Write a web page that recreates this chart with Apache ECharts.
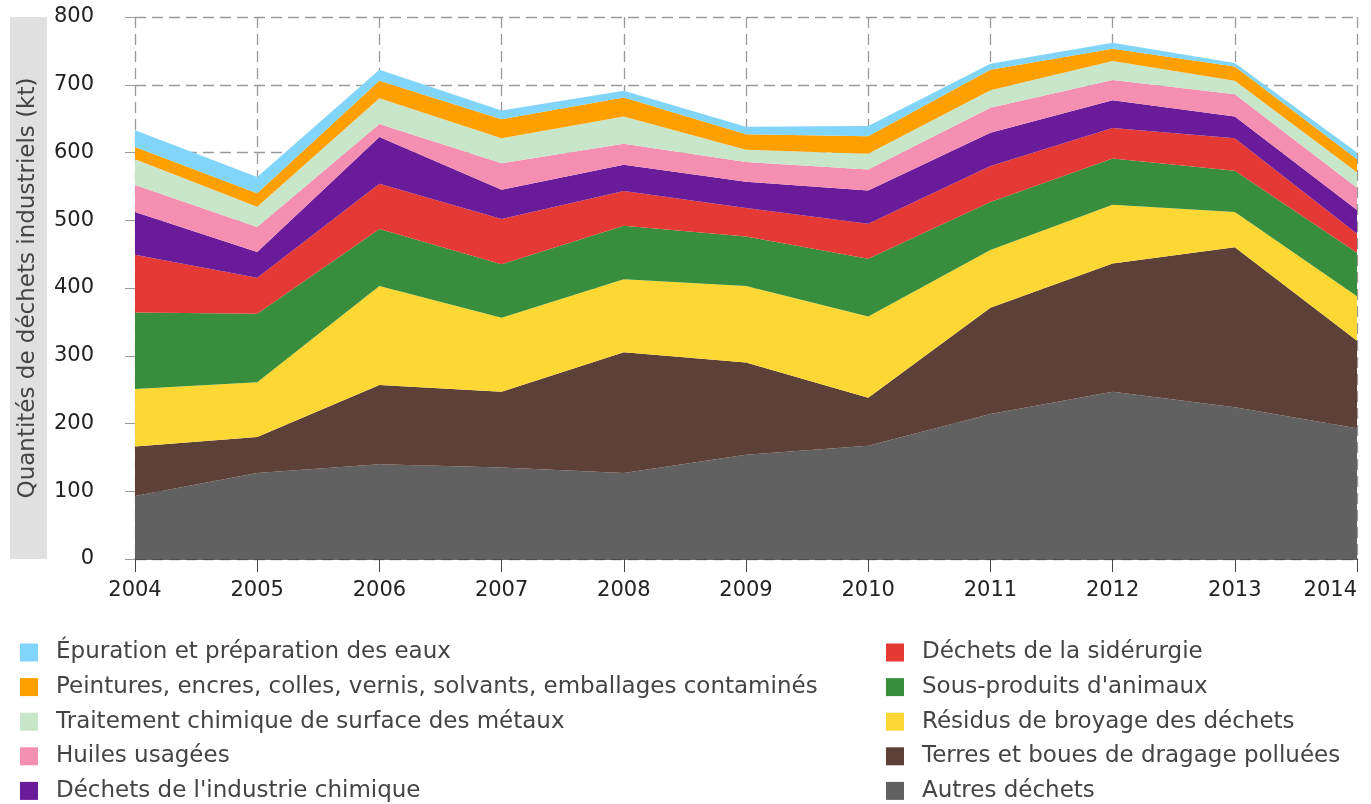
<!DOCTYPE html>
<html>
<head>
<meta charset="utf-8">
<script src="https://cdn.jsdelivr.net/npm/echarts@6/dist/echarts.min.js"></script>
<style>
html,body{margin:0;padding:0;background:#fff;}
#chart{width:1371px;height:804px;}
</style>
</head>
<body>
<div id="chart"></div>
<script>
const years = ['2004','2005','2006','2007','2008','2009','2010','2011','2012','2013','2014'];

const autres      = [93, 127, 140, 135, 127, 154, 167, 214, 247, 224, 193];
const terres      = [73, 53, 117, 112, 178, 136, 71, 157, 189, 236, 129];
const residus     = [85, 81, 146, 109, 108, 113, 120, 85, 87, 52, 66];
const sousProd    = [113, 101, 84, 79, 79, 73, 85, 71, 68, 61, 64];
const siderurgie  = [85, 53, 67, 67, 51, 42, 52, 53, 45, 48, 28];
const chimique    = [63, 38, 69, 43, 39, 39, 49, 49, 41, 32, 35];
const huiles      = [40, 37, 19, 39, 31, 29, 31, 37, 30, 33, 33];
const traitement  = [38, 30, 38, 37, 40, 18, 23, 26, 28, 20, 23];
const peintures   = [18, 20, 26, 28, 28, 23, 26, 30, 18, 21, 19];
const epuration   = [25, 24, 16, 13, 10, 11, 15, 9, 9, 5, 10];

const yTicks = [0, 100, 200, 300, 400, 500, 600, 700, 800];

const seriesDefs = [
  {name: 'Autres déchets', data: autres, color: '#616161'},
  {name: 'Terres et boues de dragage polluées', data: terres, color: '#5d4037'},
  {name: 'Résidus de broyage des déchets', data: residus, color: '#fdd835'},
  {name: "Sous-produits d'animaux", data: sousProd, color: '#388e3c'},
  {name: 'Déchets de la sidérurgie', data: siderurgie, color: '#e53935'},
  {name: "Déchets de l'industrie chimique", data: chimique, color: '#6a1b9a'},
  {name: 'Huiles usagées', data: huiles, color: '#f48fb1'},
  {name: 'Traitement chimique de surface des métaux', data: traitement, color: '#c8e6c9'},
  {name: 'Peintures, encres, colles, vernis, solvants, emballages contaminés', data: peintures, color: '#ffa000'},
  {name: 'Épuration et préparation des eaux', data: epuration, color: '#81d4fa'}
];

const leftLegend = [
  'Épuration et préparation des eaux',
  'Peintures, encres, colles, vernis, solvants, emballages contaminés',
  'Traitement chimique de surface des métaux',
  'Huiles usagées',
  "Déchets de l'industrie chimique"
];
const rightLegend = [
  'Déchets de la sidérurgie',
  "Sous-produits d'animaux",
  'Résidus de broyage des déchets',
  'Terres et boues de dragage polluées',
  'Autres déchets'
];

const FONT = 'DejaVu Sans';
const legendCommon = {
  orient: 'vertical',
  icon: 'rect',
  itemWidth: 18,
  itemHeight: 18,
  itemGap: 11.6,
  padding: 0,
  height: 170,
  selectedMode: false,
  textStyle: {fontFamily: FONT, fontSize: 23, color: '#444', padding: [0, 0, 0, 13], lineHeight: 23}
};

const chart = echarts.init(document.getElementById('chart'), null, {renderer: 'canvas'});
chart.setOption({
  animation: false,
  backgroundColor: '#fff',
  textStyle: {fontFamily: FONT},
  color: seriesDefs.map(s => s.color),
  grid: {left: 135, right: 14, top: 17, bottom: 245, containLabel: false},
  graphic: [{
    type: 'rect', left: 10, top: 17, z: -1,
    shape: {width: 37, height: 542},
    style: {fill: '#e0e0e0'}
  }],
  legend: [
    Object.assign({}, legendCommon, {data: leftLegend, left: 20, top: 641}),
    Object.assign({}, legendCommon, {data: rightLegend, left: 886, top: 641})
  ],
  xAxis: {
    type: 'category',
    data: years,
    boundaryGap: false,
    axisLine: {lineStyle: {color: '#333', width: 1.5}},
    axisTick: {show: true, length: 13, lineStyle: {color: '#444'}},
    axisLabel: {fontFamily: FONT, fontSize: 21, color: '#222', margin: 21, alignMaxLabel: 'right'},
    splitLine: {show: true, lineStyle: {color: '#9a9a9a', type: [11, 6], width: 1.3}}
  },
  yAxis: {
    type: 'value',
    min: 0, max: 800, interval: 100,
    name: 'Quantités de déchets industriels (kt)',
    nameLocation: 'middle',
    nameGap: 95,
    nameTextStyle: {fontFamily: FONT, fontSize: 23, color: '#444'},
    axisLine: {show: false},
    axisTick: {show: true, length: 10, lineStyle: {color: '#9a9a9a', type: [11, 6]}},
    axisLabel: {fontFamily: FONT, fontSize: 21, color: '#222', margin: 41,
      formatter: v => yTicks.includes(v) ? String(v) : ''},
    splitLine: {show: true, lineStyle: {color: '#9a9a9a', type: [11, 6], width: 1.3}}
  },
  series: seriesDefs.map(s => ({
    name: s.name,
    type: 'line',
    stack: 'total',
    data: s.data,
    symbol: 'none',
    lineStyle: {width: 0},
    areaStyle: {color: s.color, opacity: 1},
    itemStyle: {color: s.color},
    z: 1
  }))
});
</script>
</body>
</html>
